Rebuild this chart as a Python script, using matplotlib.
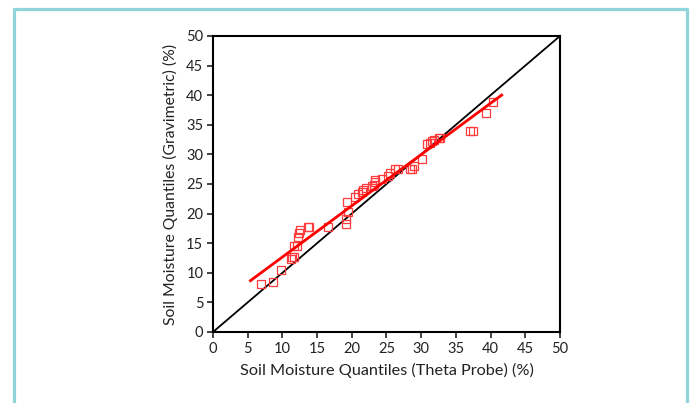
import matplotlib.pyplot as plt
from matplotlib.lines import Line2D

plt.rcParams['font.family'] = ['Lato', 'DejaVu Sans']

# theta probe quantiles (x) vs gravimetric quantiles (y)
theta = [6.9, 8.6, 9.8, 11.2, 11.4, 11.7, 11.7, 12.1, 12.2, 12.4, 12.5, 13.7, 13.9,
         16.6, 19.2, 19.2, 19.4, 19.3, 20.5, 20.9, 21.4, 21.6, 22.0, 22.9, 23.2,
         23.3, 23.4, 24.3, 25.2, 25.5, 26.2, 26.6, 28.4, 28.7, 28.9, 30.1, 30.8,
         31.3, 31.5, 31.8, 32.6, 32.7, 37.0, 37.5, 39.4, 40.4]
grav = [8.1, 8.4, 10.4, 12.3, 12.7, 12.7, 14.6, 14.6, 16.1, 16.7, 17.2, 17.7, 17.7,
        17.8, 18.2, 19.1, 20.3, 22.0, 22.8, 23.3, 23.7, 24.0, 24.3, 24.6, 24.9,
        25.4, 25.7, 25.9, 26.4, 26.8, 27.5, 27.5, 27.5, 27.5, 28.0, 29.2, 31.8,
        32.0, 32.3, 32.4, 32.7, 32.7, 34.0, 34.0, 37.0, 38.9]

# regression line (slope, intercept) and its x range
fit_slope = 0.866
fit_icept = 4.0
fit_x = [5.4, 41.6]

fig = plt.figure(figsize=(6.94, 4.03), dpi=100)
ax = fig.add_axes([0.3069, 0.1762, 0.5, 0.7345])

ax.plot([0, 50], [0, 50], color='black', lw=1.3, zorder=2)
ax.plot(theta, grav, 's', mfc='none', mec='#ff3b3b', mew=0.9, ms=6.3, zorder=3)
ax.plot(fit_x, [fit_slope * v + fit_icept for v in fit_x], color='#ff0000', lw=2, zorder=4)

ax.set_xlim(0, 50)
ax.set_ylim(0, 50)
ax.set_xticks(range(0, 51, 5))
ax.set_yticks(range(0, 51, 5))
ax.tick_params(direction='out', length=4, width=1.2, labelsize=10.5, colors='#222222',
               top=False, right=False, pad=3)
for s in ax.spines.values():
    s.set_linewidth(1.5)
    s.set_color('black')

ax.set_xlabel('Soil Moisture Quantiles (Theta Probe) (%)', fontsize=11.7, color='#222222', labelpad=5)
ax.set_ylabel('Soil Moisture Quantiles (Gravimetric) (%)', fontsize=11.3, color='#222222', labelpad=6)

# open teal frame around the figure
bc = '#8ed4d9'
fig.add_artist(Line2D([0.0202, 0.0202, 0.9899, 0.9899], [0.0, 0.9777, 0.9777, 0.0],
                      transform=fig.transFigure, color=bc, lw=2.3))

fig.savefig('out.png', dpi=100)
